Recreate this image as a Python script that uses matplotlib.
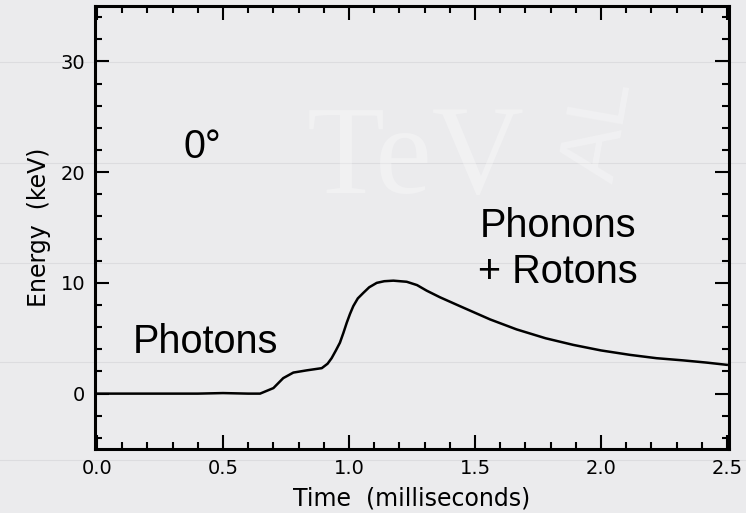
import matplotlib
matplotlib.use("Agg")
import matplotlib.pyplot as plt
from matplotlib.ticker import MultipleLocator
from matplotlib.lines import Line2D

# Data
time_ms = [0.00, 0.10, 0.20, 0.30, 0.40, 0.50, 0.60, 0.647, 0.700, 0.739, 0.779,
           0.832, 0.892, 0.915, 0.931, 0.948, 0.964, 0.978, 0.991, 1.004, 1.017,
           1.035, 1.057, 1.080, 1.110, 1.140, 1.176, 1.229, 1.270,
           1.308, 1.361, 1.440, 1.560, 1.665, 1.780, 1.890, 2.000, 2.115, 2.220,
           2.327, 2.420, 2.499]
energy_kev = [0.0, 0.0, 0.0, 0.0, 0.0, 0.05, 0.0, 0.0, 0.5, 1.4, 1.9,
              2.1, 2.3, 2.7, 3.2, 3.9, 4.6, 5.5, 6.4, 7.2, 7.9,
              8.6, 9.1, 9.6, 10.0, 10.15, 10.2, 10.1, 9.8,
              9.3, 8.7, 7.9, 6.7, 5.8, 5.0, 4.4, 3.9, 3.5, 3.2,
              3.0, 2.8, 2.6]

x_ticks = [0.0, 0.5, 1.0, 1.5, 2.0, 2.5]
x_tick_labels = ["0.0", "0.5", "1.0", "1.5", "2.0", "2.5"]
y_ticks = [0, 10, 20, 30]
y_tick_labels = ["0", "10", "20", "30"]

annotations = [("0°", 0.345, 21.3), ("Photons", 0.143, 3.7),
               ("Phonons", 1.52, 14.1), ("+ Rotons", 1.51, 9.95)]

bg = "#ebebed"
fig = plt.figure(figsize=(7.46, 5.13), dpi=100, facecolor=bg)

# faint slide background lines
for yy in [1 - 62 / 513, 1 - 163 / 513, 1 - 263 / 513, 1 - 362 / 513, 1 - 460 / 513]:
    fig.add_artist(Line2D([0, 1], [yy, yy], transform=fig.transFigure,
                          color="#d6d6da", lw=0.8, alpha=0.7, zorder=0))
# faint watermark text
fig.text(307 / 746, 1 - 193 / 513, "TeV", fontsize=92, family="Liberation Serif",
         color="white", alpha=0.3, zorder=0, va="baseline")
fig.text(553 / 746, 1 - 187 / 513, "AL", fontsize=60, family="Liberation Sans",
         color="white", alpha=0.3, rotation=80, ha="left", va="bottom", zorder=0)

ax = fig.add_axes([95 / 746, 1 - 449 / 513, (729 - 95) / 746, (449 - 6) / 513])
ax.set_facecolor("none")

ax.plot(time_ms, energy_kev, color="black", lw=1.8, solid_joinstyle="round")

ax.set_xlim(-0.008, 2.508)
ax.set_ylim(-5, 35)

tick_font = "DejaVu Sans"
ax.set_xticks(x_ticks)
ax.set_xticklabels(x_tick_labels, family=tick_font, fontsize=14)
ax.set_yticks(y_ticks)
ax.set_yticklabels(y_tick_labels, family=tick_font, fontsize=14)
ax.xaxis.set_minor_locator(MultipleLocator(0.1))
ax.yaxis.set_minor_locator(MultipleLocator(2))
ax.tick_params(which="both", direction="in", top=True, right=True,
               width=1.5, color="black")
ax.tick_params(which="major", length=10)
ax.tick_params(axis="x", which="major", pad=7)
ax.tick_params(axis="y", which="major", pad=7)
ax.tick_params(which="minor", length=5)
for s in ax.spines.values():
    s.set_linewidth(2.2)

ax.set_xlabel("Time  (milliseconds)", family=tick_font, fontsize=17, labelpad=6)
ax.set_ylabel("Energy  (keV)", family=tick_font, fontsize=17, labelpad=7)

for txt, xx, yy in annotations:
    ax.text(xx, yy, txt, fontsize=28.5, family="Liberation Sans", color="black",
            va="baseline")

fig.savefig("out.png", dpi=100, facecolor=bg)
